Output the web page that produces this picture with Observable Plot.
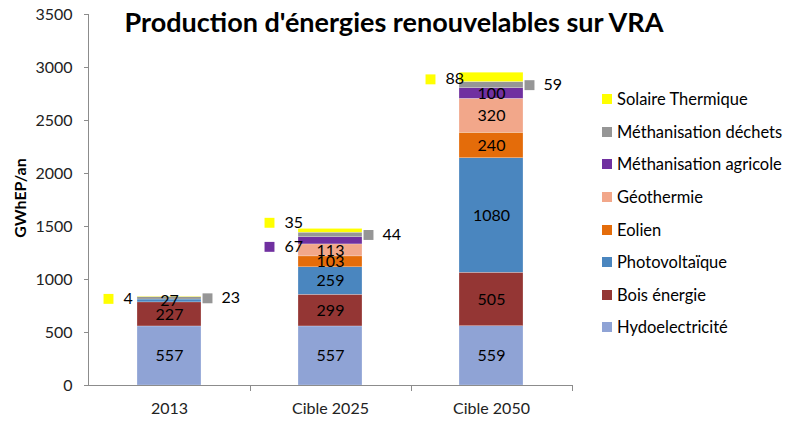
<!DOCTYPE html>
<html>
<head>
<meta charset="utf-8">
<script src="https://cdn.jsdelivr.net/npm/d3@7"></script>
<script src="https://cdn.jsdelivr.net/npm/@observablehq/plot@0.6"></script>
<style>
  html, body { margin: 0; padding: 0; background: #fff; }
  #wrap { position: relative; width: 787px; height: 423px; font-family: Lato, "Open Sans", sans-serif; }
  #title { position: absolute; left: 0; width: 788px; top: 5px; text-align: center; font-weight: bold; font-size: 27px; color: #000; white-space: nowrap; }
  #legend { position: absolute; left: 602px; top: 83px; font-size: 16.5px; color: #000; }
  .row { display: flex; align-items: center; height: 32.6px; line-height: 20px; white-space: nowrap; }
  .sw { width: 10px; height: 10px; margin-right: 5px; flex: none; }
  svg { position: absolute; left: 0; top: 0; }
</style>
</head>
<body>
<div id="wrap">
  <div id="chart"></div>
  <div id="title">Production d'énergies renouvelables sur VRA</div>
  <div id="legend"></div>
</div>
<script>
// ---- data ----
const categories = ["2013", "Cible 2025", "Cible 2050"];
const series = ["Hydoelectricité", "Bois énergie", "Photovoltaïque", "Eolien", "Géothermie", "Méthanisation agricole", "Méthanisation déchets", "Solaire Thermique"];
const hydro     = [557, 557, 559];
const bois      = [227, 299, 505];
const photovolt = [27, 259, 1080];
const eolien    = [0, 103, 240];
const geotherm  = [0, 113, 320];
const methAgri  = [0, 67, 100];
const methDech  = [23, 44, 59];
const solaire   = [4, 35, 88];
const colors = ["#8FA3D5", "#943634", "#4A86BF", "#E46C0A", "#F2A78A", "#7030A0", "#969696", "#FFFF00"];
const yTicks = [0, 500, 1000, 1500, 2000, 2500, 3000, 3500];
const yLabel = "GWhEP/an";

// ---- derived table ----
const valuesBySeries = [hydro, bois, photovolt, eolien, geotherm, methAgri, methDech, solaire];
const rows = [];
categories.forEach((cat, i) => {
  let acc = 0;
  series.forEach((s, j) => {
    const v = valuesBySeries[j][i];
    if (v > 0) {
      const outside = j >= 5 && v < 90;
      const side = outside ? (s === "Méthanisation déchets" ? "right" : "left") : "in";
      rows.push({cat, series: s, value: v, y1: acc, y2: acc + v, mid: acc + v / 2, side});
    }
    acc += v;
  });
});
const inside = rows.filter(d => d.side === "in");
const right = rows.filter(d => d.side === "right");
// small vertical nudge (pixels) for overlapping outside labels on the left
const nudge = d => d.cat === "Cible 2025" ? (d.series === "Solaire Thermique" ? -8 : 6) : 2;
const leftGroups = d3.groups(rows.filter(d => d.side === "left"), nudge);

const axisColor = "#8C8C8C";
const fontFamily = "Lato, 'Open Sans', sans-serif";
const sq = 5.6; // square symbol radius (~10px side)
const leftMarks = leftGroups.flatMap(([dy, g]) => [
  Plot.dot(g, {x: "cat", y: "mid", dx: -61, dy, symbol: "square", r: sq, fill: "series"}),
  Plot.text(g, {x: "cat", y: "mid", dx: -46, dy, text: d => String(d.value), textAnchor: "start", fill: "#000", fontSize: 16})
]);

const chart = Plot.plot({
  width: 787,
  height: 423,
  marginLeft: 88,
  marginRight: 215,
  marginTop: 14,
  marginBottom: 38,
  style: {fontFamily, fontSize: "16px", color: "#000", background: "transparent"},
  x: {domain: categories, paddingInner: 0.6, paddingOuter: 0.3, axis: null, label: null},
  y: {domain: [0, 3500], axis: null, label: null},
  color: {domain: series, range: colors},
  marks: [
    Plot.barY(rows, {x: "cat", y1: "y1", y2: "y2", fill: "series", stroke: "#fff", strokeWidth: 0.4, strokeOpacity: 0.6}),
    // axes
    Plot.ruleY([0], {stroke: axisColor}),
    Plot.ruleX([categories[0]], {x: d => d, dx: -81, y1: 0, y2: 3500, stroke: axisColor}),
    Plot.ruleX(categories, {x: d => d, dx: 81, y1: 0, y2: 0, insetBottom: -6, stroke: axisColor}),
    Plot.axisY({ticks: yTicks, tickFormat: "d", tickSize: 4, tickPadding: 12, stroke: axisColor, fill: "#222", fontSize: 16, label: null}),
    Plot.axisX({tickSize: 0, tickPadding: 17, fill: "#222", fontSize: 16, label: null}),
    Plot.text([yLabel], {text: d => d, frameAnchor: "left", textAnchor: "middle", rotate: -90, dx: -68, dy: -2, fontWeight: "bold", fontSize: 16, fill: "#000"}),
    // inside labels
    Plot.text(inside, {x: "cat", y: "mid", text: d => String(d.value), fill: "#000", fontSize: 16}),
    // outside labels (left)
    ...leftMarks,
    // outside labels (right)
    Plot.dot(right, {x: "cat", y: "mid", dx: 38, symbol: "square", r: sq, fill: "series"}),
    Plot.text(right, {x: "cat", y: "mid", dx: 52, text: d => String(d.value), textAnchor: "start", fill: "#000", fontSize: 16})
  ]
});
document.getElementById("chart").appendChild(chart);

const legend = document.getElementById("legend");
series.slice().reverse().forEach(s => {
  const row = document.createElement("div");
  row.className = "row";
  const sw = document.createElement("div");
  sw.className = "sw";
  sw.style.background = colors[series.indexOf(s)];
  const t = document.createElement("span");
  t.textContent = s;
  row.appendChild(sw);
  row.appendChild(t);
  legend.appendChild(row);
});
</script>
</body>
</html>
